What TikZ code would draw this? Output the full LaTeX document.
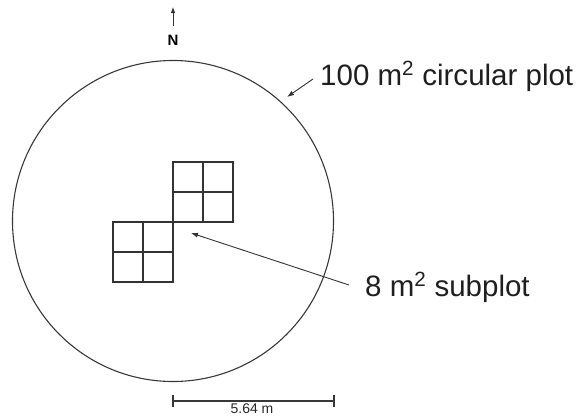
\documentclass[tikz,border=0pt]{standalone}
\usepackage{fontspec}
\setmainfont{Liberation Sans}
\usetikzlibrary{arrows.meta}
\begin{document}
\begin{tikzpicture}[x=1pt,y=-1pt,
  ln/.style={draw=black!78, line width=1.1pt},
  sq/.style={draw=black!80, line width=1.2pt},
  arr/.style={draw=black!80, line width=0.9pt, -{Latex[length=7pt,width=5pt]}},
  narr/.style={draw=black!80, line width=0.8pt, -{Latex[length=6pt,width=4.5pt]}},
  biglabel/.style={font=\fontsize{29.5}{34}\selectfont, text=black!88, inner sep=0pt},
  smalllabel/.style={font=\fontsize{14}{16}\selectfont, text=black!85, inner sep=0pt}]
\useasboundingbox (0,0) rectangle (577,415);
% main plot circle
\node[circle, ln, minimum size=321pt, inner sep=0pt] (plot) at (173,221) {};
% north arrow
\node[font=\bfseries\fontsize{15}{17}\selectfont, inner sep=0pt, anchor=base] (north) at (173,45) {N};
\coordinate (ntip) at (173,7);
\draw[narr] (173,26) -- (ntip);
% subplot squares
\foreach \x/\y in {173/162, 113/222} {
  \draw[sq] (\x,\y) rectangle ++(60,60);
  \draw[sq] (\x+30,\y) -- ++(0,60);
  \draw[sq] (\x,\y+30) -- ++(60,0);
}
% labels
\node[biglabel, anchor=base west] (circlab) at (320,85) {100 m\textsuperscript{2} circular plot};
\coordinate (circtail) at (313,79);
\coordinate (circtip) at (287,97);
\draw[arr] (circtail) -- (circtip);
\node[biglabel, anchor=base west] (sublab) at (365,296) {8 m\textsuperscript{2} subplot};
\coordinate (subtail) at (349,285);
\coordinate (subtip) at (191,233);
\draw[arr] (subtail) -- (subtip);
% scale bar
\coordinate (sbl) at (173,401);
\coordinate (sbr) at (334,401);
\draw[ln] (sbl) -- (sbr);
\draw[ln] (173,395) -- (173,407);
\draw[ln] (334,395) -- (334,407);
\node[smalllabel, anchor=base] (scalelab) at (252,413) {5.64 m};
\end{tikzpicture}
\end{document}
